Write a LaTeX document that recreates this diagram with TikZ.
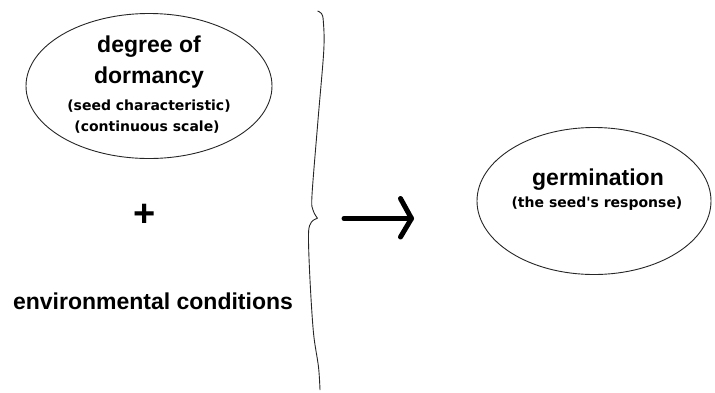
\documentclass[tikz,border=0pt]{standalone}
\usepackage{fontspec}
\setmainfont{Liberation Sans}
\newfontfamily\smallfont{DejaVu Sans}
\usetikzlibrary{shapes.geometric}
\tikzset{
  oval/.style={draw=black!85, line width=0.9pt, ellipse, inner sep=0pt},
  bigtxt/.style={anchor=base, inner sep=0pt, font=\fontsize{23}{23}\selectfont\bfseries},
  smalltxt/.style={anchor=base, inner sep=0pt, font=\smallfont\fontsize{14}{14}\selectfont\bfseries},
  bracestyle/.style={draw=black!85, line width=0.9pt},
  bigarrow/.style={line width=5pt, line cap=round, line join=round}
}
\begin{document}
\begin{tikzpicture}[x=1pt,y=-1pt]
\useasboundingbox (0,0) rectangle (715,392);
% left ellipse
\node[oval, minimum width=246pt, minimum height=145pt] (dorm) at (149,86) {};
\node[bigtxt] (d1) at (149,52) {degree of};
\node[bigtxt] (d2) at (149,83) {dormancy};
\node[smalltxt] (d3) at (149,110) {(seed characteristic)};
\node[smalltxt] (d4) at (147,131) {(continuous scale)};
% plus
\node[inner sep=0pt, font=\fontsize{38}{38}\selectfont\bfseries] (plus) at (145,215) {+};
% environmental conditions
\node[bigtxt] (env) at (153,309) {environmental conditions};
% brace
\draw[bracestyle] plot[smooth, tension=0.55] coordinates {
  (317.5,11) (321.5,13.5) (323.3,21) (323.8,50) (318,120) (312,195) (313,210) (317.5,218.3)};
\draw[bracestyle] plot[smooth, tension=0.55] coordinates {
  (317.5,218.3) (311.5,222) (308.5,234) (310,280) (313.5,333) (318.5,367) (320,390)};
% arrow
\coordinate (arrS) at (344,218.5);
\coordinate (arrE) at (411.5,218.5);
\draw[bigarrow] (arrS) -- (arrE);
\draw[bigarrow] (400.5,198.5) -- (arrE) -- (400.5,237);
% right ellipse
\node[oval, minimum width=234pt, minimum height=147pt] (germ) at (594,201) {};
\node[bigtxt] (g1) at (598,185) {germination};
\node[smalltxt] (g2) at (597,207) {(the seed's response)};
\end{tikzpicture}
\end{document}
